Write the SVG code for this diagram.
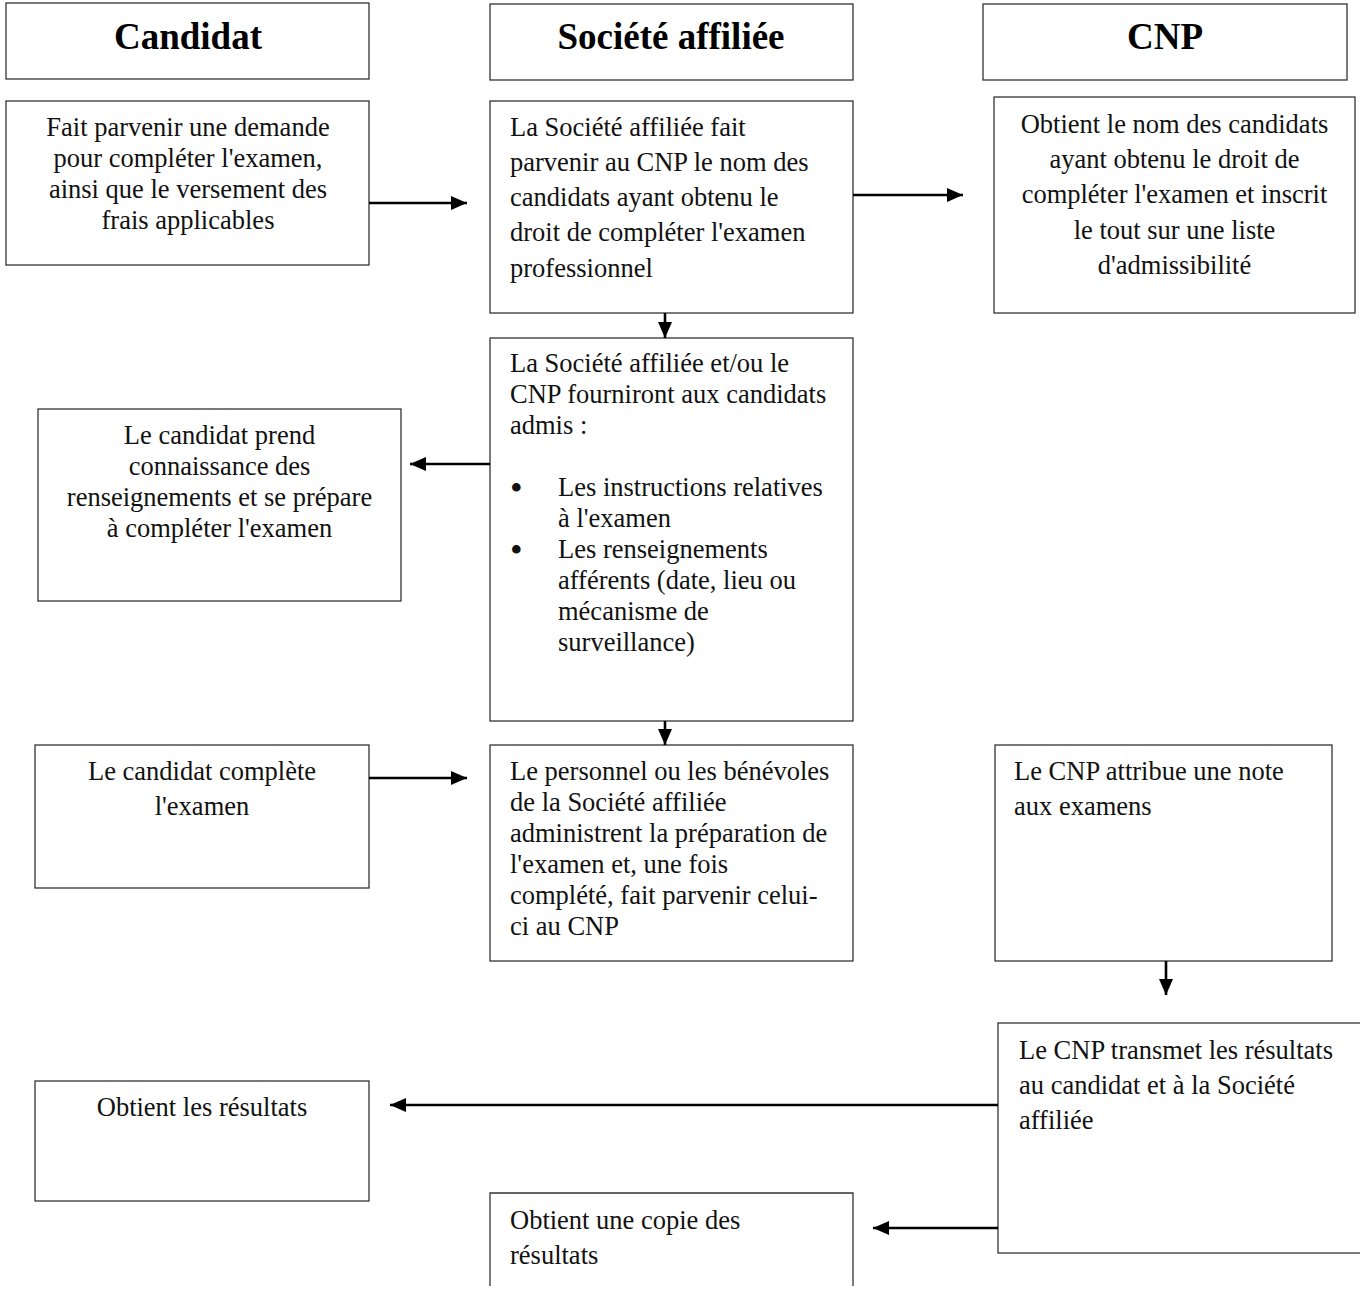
<svg xmlns="http://www.w3.org/2000/svg" width="1360" height="1293" viewBox="0 0 1360 1293">
<style>
.box{fill:#fff;stroke:#333;stroke-width:1.3}
.hdr{font-family:"Liberation Serif","Times New Roman",serif;font-weight:bold;font-size:37px;fill:#000;text-anchor:middle}
.t{font-family:"Liberation Serif","Times New Roman",serif;font-size:26.5px;fill:#111}
.c{text-anchor:middle}
.b{font-family:"Liberation Serif","Times New Roman",serif;font-size:36px;fill:#111}
.conn{stroke:#000;stroke-width:2.6;fill:none;marker-end:url(#ah)}
</style>
<defs>
<marker id="ah" markerUnits="userSpaceOnUse" markerWidth="17" markerHeight="15" refX="16" refY="7" orient="auto">
<path d="M0,0 L16,7 L0,14 z" fill="#000"/>
</marker>
</defs>
<rect width="1360" height="1293" fill="#fff"/>
<g id="hdr-candidat"><rect class="box" x="6" y="3" width="363" height="76"/><text class="hdr" x="188" y="49">Candidat</text></g>
<g id="hdr-societe"><rect class="box" x="490" y="4" width="363" height="76"/><text class="hdr" x="671" y="49">Société affiliée</text></g>
<g id="hdr-cnp"><rect class="box" x="983" y="4" width="364" height="76"/><text class="hdr" x="1165" y="49">CNP</text></g>

<g id="n1"><rect class="box" x="6" y="101" width="363" height="164"/>
<text class="t c"><tspan x="188" y="136">Fait parvenir une demande</tspan><tspan x="188" y="167">pour compléter l'examen,</tspan><tspan x="188" y="198">ainsi que le versement des</tspan><tspan x="188" y="229">frais applicables</tspan></text></g>

<g id="n2"><rect class="box" x="490" y="101" width="363" height="212"/>
<text class="t"><tspan x="510" y="136">La Société affiliée fait</tspan><tspan x="510" y="171">parvenir au CNP le nom des</tspan><tspan x="510" y="206">candidats ayant obtenu le</tspan><tspan x="510" y="241">droit de compléter l'examen</tspan><tspan x="510" y="277">professionnel</tspan></text></g>

<g id="n3"><rect class="box" x="994" y="97" width="361" height="216"/>
<text class="t c"><tspan x="1174.5" y="133">Obtient le nom des candidats</tspan><tspan x="1174.5" y="168">ayant obtenu le droit de</tspan><tspan x="1174.5" y="203">compléter l'examen et inscrit</tspan><tspan x="1174.5" y="239">le tout sur une liste</tspan><tspan x="1174.5" y="274">d'admissibilité</tspan></text></g>

<g id="n4"><rect class="box" x="490" y="338" width="363" height="383"/>
<text class="t"><tspan x="510" y="372">La Société affiliée et/ou le</tspan><tspan x="510" y="403">CNP fourniront aux candidats</tspan><tspan x="510" y="434">admis :</tspan></text>
<text class="b"><tspan x="510" y="500">•</tspan><tspan x="510" y="562">•</tspan></text>
<text class="t"><tspan x="558" y="496">Les instructions relatives</tspan><tspan x="558" y="527">à l'examen</tspan><tspan x="558" y="558">Les renseignements</tspan><tspan x="558" y="589">afférents (date, lieu ou</tspan><tspan x="558" y="620">mécanisme de</tspan><tspan x="558" y="651">surveillance)</tspan></text></g>

<g id="n5"><rect class="box" x="38" y="409" width="363" height="192"/>
<text class="t c"><tspan x="219.5" y="444">Le candidat prend</tspan><tspan x="219.5" y="475">connaissance des</tspan><tspan x="219.5" y="506">renseignements et se prépare</tspan><tspan x="219.5" y="537">à compléter l'examen</tspan></text></g>

<g id="n6"><rect class="box" x="35" y="745" width="334" height="143"/>
<text class="t c"><tspan x="202" y="780">Le candidat complète</tspan><tspan x="202" y="815">l'examen</tspan></text></g>

<g id="n7"><rect class="box" x="490" y="745" width="363" height="216"/>
<text class="t"><tspan x="510" y="780">Le personnel ou les bénévoles</tspan><tspan x="510" y="811">de la Société affiliée</tspan><tspan x="510" y="842">administrent la préparation de</tspan><tspan x="510" y="873">l'examen et, une fois</tspan><tspan x="510" y="904">complété, fait parvenir celui-</tspan><tspan x="510" y="935">ci au CNP</tspan></text></g>

<g id="n8"><rect class="box" x="995" y="745" width="337" height="216"/>
<text class="t"><tspan x="1014" y="780">Le CNP attribue une note</tspan><tspan x="1014" y="815">aux examens</tspan></text></g>

<g id="n9"><rect class="box" x="998" y="1023" width="400" height="230"/>
<text class="t"><tspan x="1019" y="1059">Le CNP transmet les résultats</tspan><tspan x="1019" y="1094">au candidat et à la Société</tspan><tspan x="1019" y="1129">affiliée</tspan></text></g>

<g id="n10"><rect class="box" x="35" y="1081" width="334" height="120"/>
<text class="t c"><tspan x="202" y="1116">Obtient les résultats</tspan></text></g>

<g id="n11"><path class="box" d="M490,1286 V1193 H853 V1286"/>
<text class="t"><tspan x="510" y="1229">Obtient une copie des</tspan><tspan x="510" y="1264">résultats</tspan></text></g>

<g id="connectors">
<line class="conn" x1="369" y1="203" x2="467" y2="203"/>
<line class="conn" x1="853" y1="195" x2="963" y2="195"/>
<line class="conn" x1="665" y1="313" x2="665" y2="338"/>
<line class="conn" x1="490" y1="464" x2="410" y2="464"/>
<line class="conn" x1="665" y1="721" x2="665" y2="745"/>
<line class="conn" x1="369" y1="778" x2="467" y2="778"/>
<line class="conn" x1="1166" y1="961" x2="1166" y2="995"/>
<line class="conn" x1="998" y1="1105" x2="390" y2="1105"/>
<line class="conn" x1="998" y1="1228" x2="873" y2="1228"/>
</g>
</svg>
